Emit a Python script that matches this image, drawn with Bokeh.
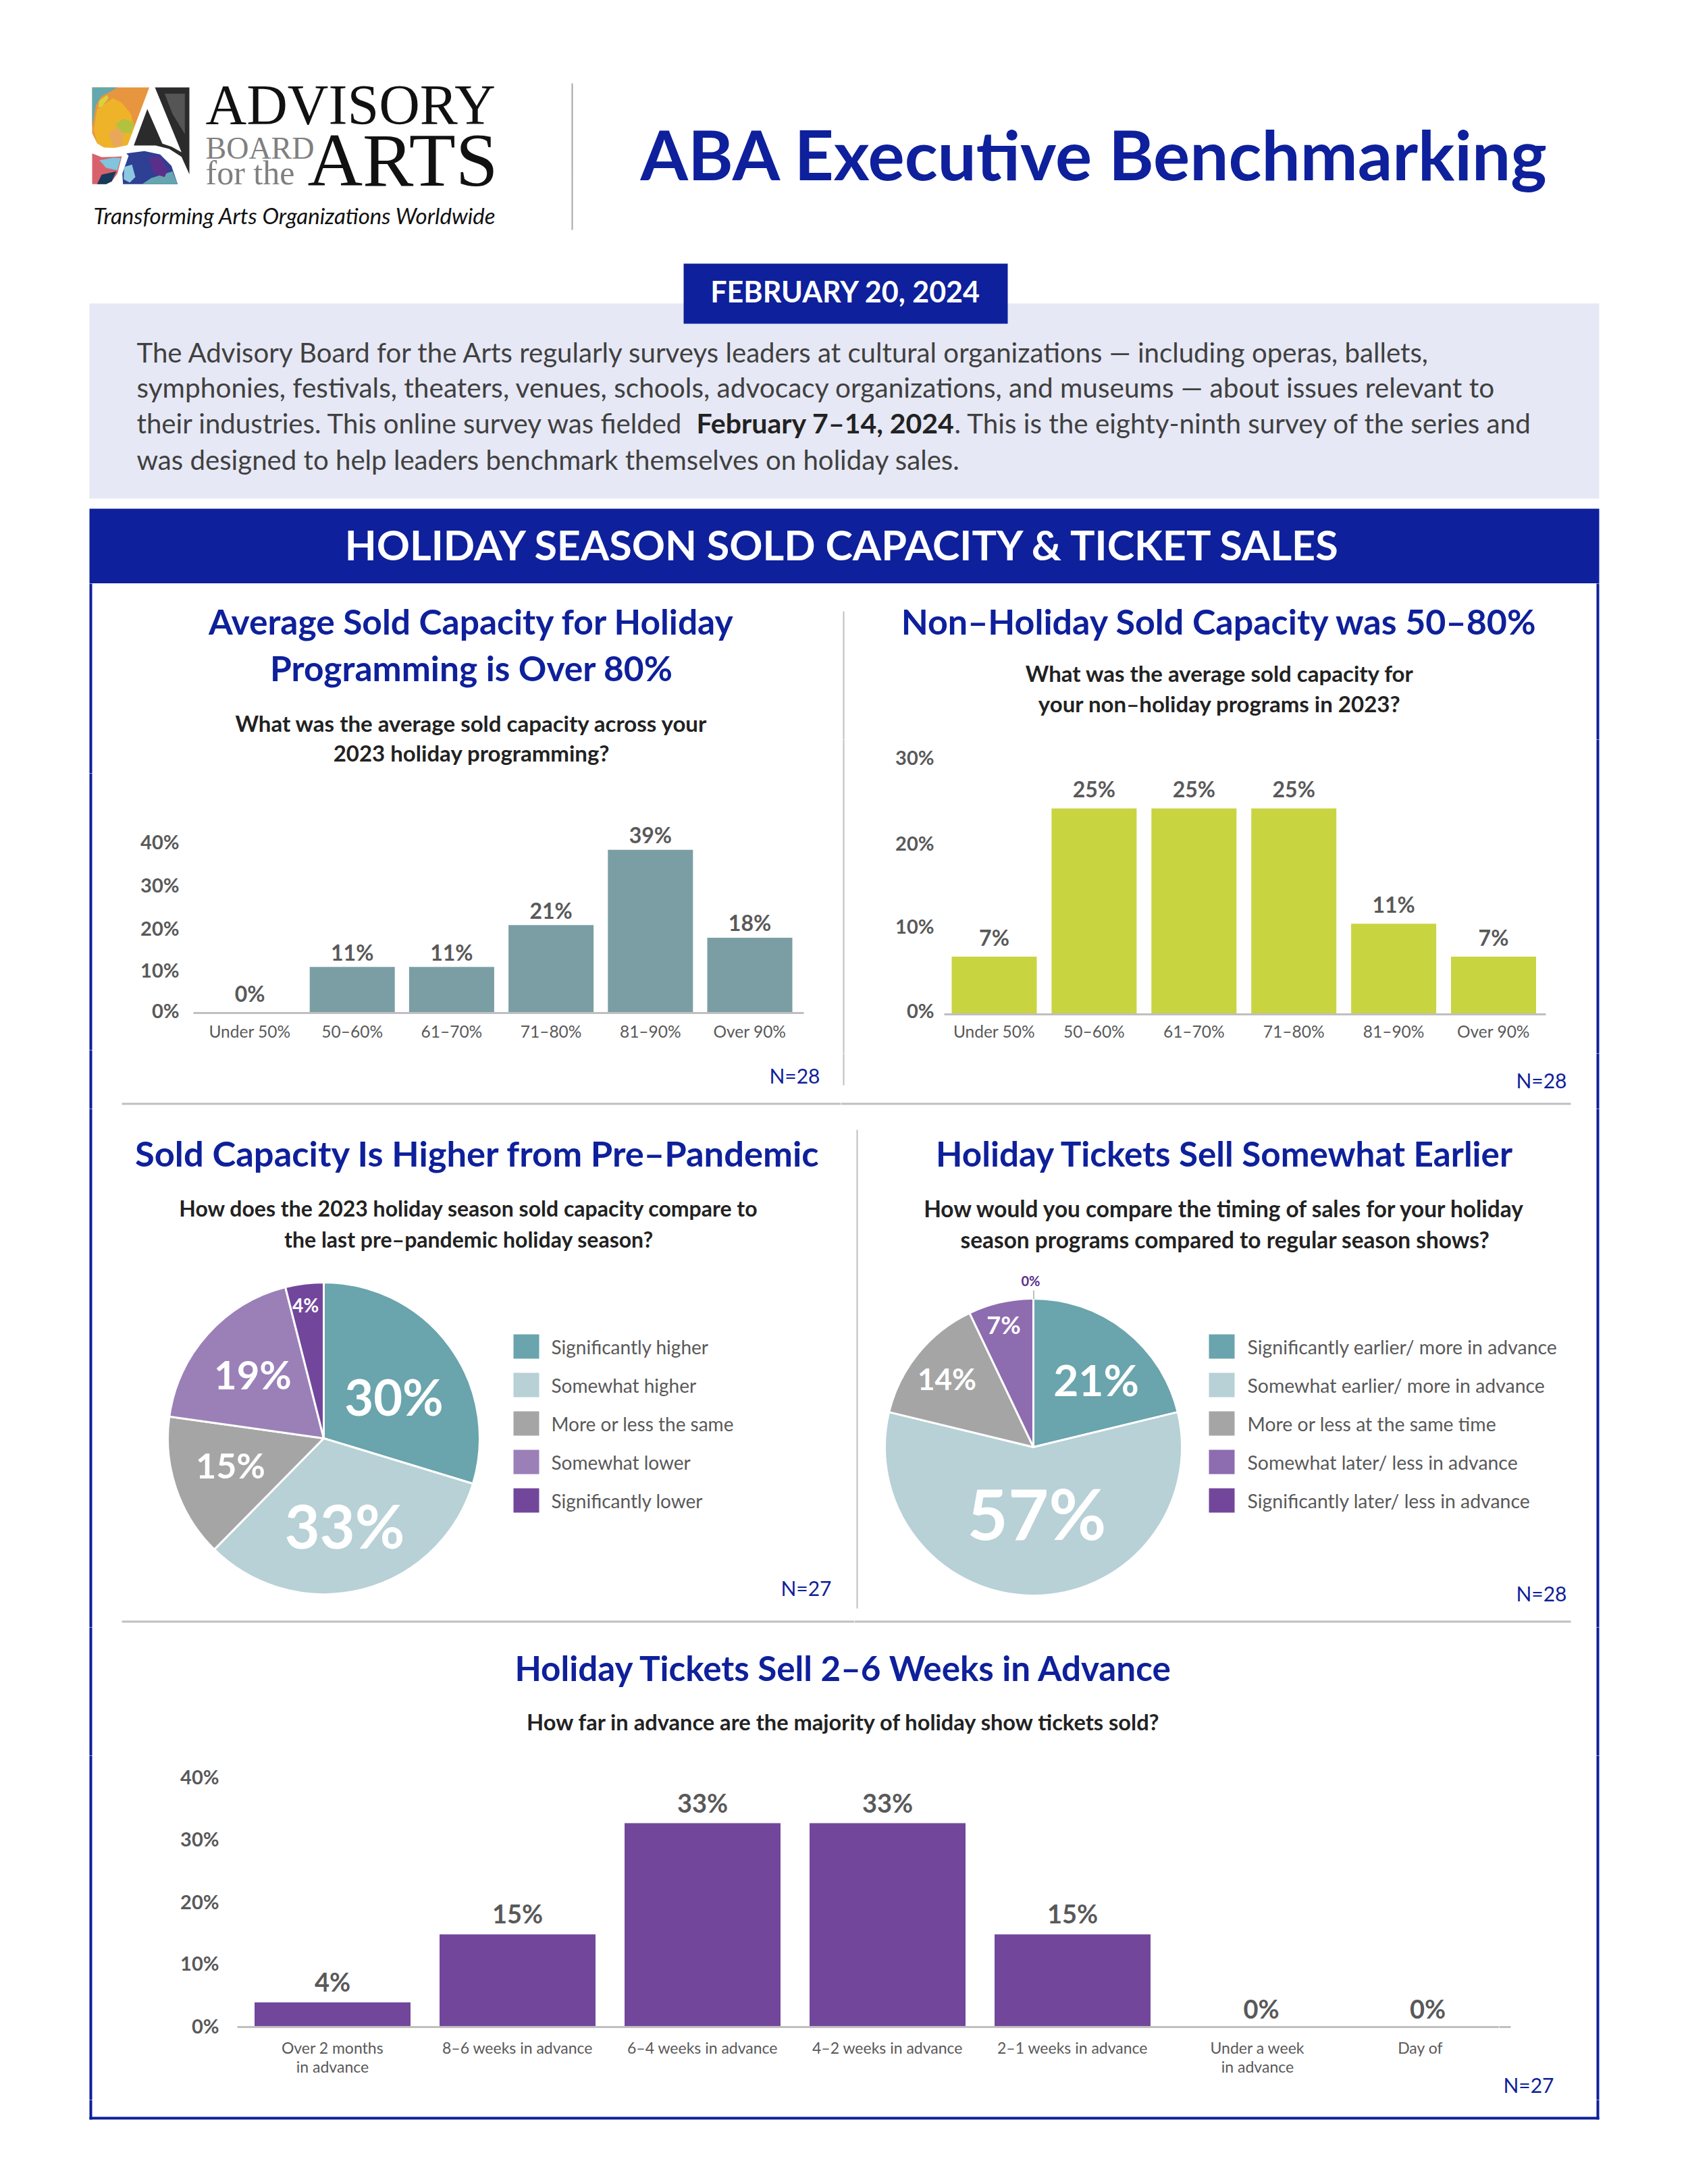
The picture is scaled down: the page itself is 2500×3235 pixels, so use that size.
from bokeh.plotting import figure
from bokeh.layouts import column, row
from bokeh.models import Range1d, LinearAxis, FixedTicker, Label, BoxAnnotation
from bokeh.core.properties import value
from bokeh.embed import file_html
from bokeh.resources import INLINE
import numpy as np

NAVY = "#0E209B"
GRAY = "#595959"
BODY = "#404040"
HEAD = "#222222"
RULE = "#BFBFBF"

capacity_cats = ["Under 50%", "50–60%", "61–70%", "71–80%", "81–90%", "Over 90%"]
holiday_values = [0, 11, 11, 21, 39, 18]
non_holiday_values = [7, 25, 25, 25, 11, 7]
advance_cats = ["Over 2 months\nin advance", "8–6 weeks in advance", "6–4 weeks in advance",
                "4–2 weeks in advance", "2–1 weeks in advance", "Under a week\nin advance", "Day of"]
advance_values = [4, 15, 33, 33, 15, 0, 0]
pre_pandemic_cats = ["Significantly higher", "Somewhat higher", "More or less the same",
                     "Somewhat lower", "Significantly lower"]
pre_pandemic_values = [30, 33, 15, 19, 4]
timing_cats = ["Significantly earlier/ more in advance", "Somewhat earlier/ more in advance",
               "More or less at the same time", "Somewhat later/ less in advance",
               "Significantly later/ less in advance"]
timing_values = [21, 57, 14, 7, 0]
axis_labels = [0, 10, 20, 30, 40]
pie_colors = ["#6AA4AD", "#B7D1D6", "#A5A5A5", "#9B80B8", "#72479B"]
pie_colors_right = ["#6AA4AD", "#B7D1D6", "#A5A5A5", "#8E6CB0", "#72479B"]


def new_fig(X0, Y0, X1, Y1, fl, ft, fr, fb, xr, yr):
    p = figure(width=X1 - X0, height=Y1 - Y0, x_range=xr, y_range=yr,
               toolbar_location=None, output_backend="svg", frame_align=False,
               min_border_left=fl - X0, min_border_right=X1 - fr,
               min_border_top=ft - Y0, min_border_bottom=Y1 - fb,
               x_axis_type=None, y_axis_type=None, background_fill_color="white",
               border_fill_color="white", outline_line_color=None)
    p.grid.visible = False
    p.tags = [fl, fb]
    return p


def sheet(X0, Y0, X1, Y1):
    return new_fig(X0, Y0, X1, Y1, X0, Y0, X1, Y1, Range1d(X0, X1), Range1d(Y1, Y0))


def box(p, l, t, r, b, color):
    fl, fb = p.tags
    p.add_layout(BoxAnnotation(left=l - fl, right=r - fl, top=fb - t, bottom=fb - b,
                               left_units="screen", right_units="screen", top_units="screen", bottom_units="screen",
                               fill_color=color, fill_alpha=1, line_alpha=0, line_width=0))


def lab(p, x, y, text, size, color=GRAY, bold=False, italic=False, align="center", font="Lato"):
    fl, fb = p.tags
    style = "bold italic" if bold and italic else "bold" if bold else "italic" if italic else "normal"
    p.add_layout(Label(x=x - fl, y=fb - y, x_units="screen", y_units="screen", text=text, text_font=font,
                       text_font_size=f"{size}px", text_color=color, text_font_style=style, text_align=align,
                       text_baseline="middle"))


def left_line(p, top, bottom):
    box(p, 132, top - 3, 136, bottom + 3, NAVY)


def right_line(p, top, bottom):
    box(p, 2364, top - 3, 2368, bottom + 3, NAVY)


def bar_chart(p, cats, vals, color, width, labels, tick_pos, tick_size, cat_size, val_size, val_off, zero_off, cat_std,
              y_std, cat_ticks=None, val_x=None, cat_lh=1.2):
    xs = list(range(len(cats)))
    p.vbar(x=xs, top=vals, width=width, bottom=0, color=color, line_color=None)
    p.text(x=val_x or xs, y=vals, text=[f"{v}%" for v in vals], text_align="center", text_baseline="middle",
           y_offset=[val_off if v > 0 else zero_off for v in vals],
           text_font=value("Lato"), text_font_style="bold", text_font_size=f"{val_size}px", text_color=GRAY)
    ya = LinearAxis(ticker=FixedTicker(ticks=tick_pos),
                    major_label_overrides={t: f"{l}%" for t, l in zip(tick_pos, labels)})
    ya.axis_line_color = None
    ya.major_tick_line_color = None
    ya.minor_tick_line_color = None
    ya.major_label_standoff = y_std
    ya.major_label_text_font = "Lato"
    ya.major_label_text_font_style = "bold"
    ya.major_label_text_font_size = f"{tick_size}px"
    ya.major_label_text_color = GRAY
    p.add_layout(ya, "left")
    cat_ticks = cat_ticks or xs
    xa = LinearAxis(ticker=FixedTicker(ticks=cat_ticks),
                    major_label_overrides={t: c for t, c in zip(cat_ticks, cats)})
    xa.axis_line_color = RULE
    xa.axis_line_width = 3
    xa.major_tick_line_color = None
    xa.minor_tick_line_color = None
    xa.major_label_standoff = cat_std
    xa.major_label_text_font = "Lato"
    xa.major_label_text_font_size = f"{cat_size}px"
    xa.major_label_text_color = GRAY
    xa.major_label_text_line_height = cat_lh
    p.add_layout(xa, "below")


def pie(p, vals, colors):
    v = np.array(vals, dtype=float)
    cum = np.concatenate([[0], np.cumsum(v)]) / v.sum()
    ang = np.pi / 2 - cum * 2 * np.pi
    keep = v > 0
    p.wedge(x=0, y=0, radius=1, start_angle=ang[:-1][keep], end_angle=ang[1:][keep], direction="clock",
            fill_color=[c for c, k in zip(colors, keep) if k], line_color="white", line_width=3)


def pie_fig(X0, Y0, X1, Y1, cx, cy, r):
    return new_fig(X0, Y0, X1, Y1, X0, Y0, X1, Y1, Range1d((X0 - cx) / r, (X1 - cx) / r),
                   Range1d((cy - Y1) / r, (cy - Y0) / r))


def legend(p, cats, colors, sx, ys, tx, size):
    for c, col, y in zip(cats, colors, ys):
        box(p, sx, y - 18, sx + 38, y + 18, col)
        lab(p, tx, y, c, size, GRAY, align="left")


def xr_for(fl, fr, c0, step):
    return Range1d((fl - c0) / step, (fr - c0) / step)


# ---- header ----
h = sheet(0, 0, 2500, 864)
logo_shapes = [
    ("#E8953F", [18, 272, 175, 120, 70, 40, 18], [12, 12, 268, 280, 278, 260, 215]),
    ("#EFB32A", [40, 110, 150, 190, 205, 175, 120, 70, 40, 25], [110, 60, 80, 130, 190, 268, 280, 278, 260, 200]),
    ("#B3C23E", [120, 160, 205, 190, 150], [175, 150, 170, 215, 215]),
    ("#E8A85A", [90, 130, 160, 150, 110], [215, 190, 220, 270, 272]),
    ("#63A8AE", [18, 130, 100, 60, 35, 25, 18], [12, 12, 30, 50, 90, 150, 190]),
    ("#D9D33B", [50, 85, 90, 60, 45], [70, 45, 60, 100, 100]),
    ("#2B2B2B", [297, 450, 450, 415, 360, 300, 203, 263, 330, 370, 415],
     [12, 12, 398, 320, 285, 270, 270, 108, 262, 275, 300]),
    ("#555555", [340, 430, 430, 375], [40, 40, 220, 130]),
    ("#D9616B", [18, 60, 120, 150, 130, 105, 80, 18], [305, 322, 320, 318, 395, 430, 442, 442]),
    ("#80C4DE", [50, 110, 145, 130, 80], [335, 325, 325, 380, 370]),
    ("#173A5C", [60, 125, 105, 80, 40], [400, 385, 430, 442, 442]),
    ("#2E3F94", [180, 170, 250, 320, 370, 398, 155, 152], [316, 305, 295, 310, 360, 442, 442, 395]),
    ("#64A5B0", [280, 375, 398, 240], [415, 385, 442, 442]),
    ("#5A2F8A", [270, 320, 355, 340, 290], [320, 320, 375, 410, 395]),
    ("#8CC8E0", [160, 195, 210, 185, 158], [365, 355, 410, 435, 420]),
]
for col, xs, ys in logo_shapes:
    h.patch([130 + v / 3 for v in xs], [125 + v / 3 for v in ys], color=col, line_color=None)
lab(h, 304, 155, "ADVISORY", 84, "#111111", align="left", font="Liberation Serif")
lab(h, 455, 236, "ARTS", 113, "#111111", align="left", font="Liberation Serif")
lab(h, 304, 219, "BOARD", 46, "#808080", align="left", font="Liberation Serif")
lab(h, 304, 255, "for the", 50, "#808080", align="left", font="Liberation Serif")
lab(h, 138, 318, "Transforming Arts Organizations Worldwide", 33, "#111111", italic=True, align="left")
box(h, 846, 123, 848, 340, "#A6A6A6")
lab(h, 948, 227, "ABA Executive Benchmarking", 101.5, NAVY, bold=True, align="left")
box(h, 132, 449, 2368, 738, "#E6E8F5")
box(h, 1012, 390, 1492, 479, NAVY)
lab(h, 1252, 431, "FEBRUARY 20, 2024", 43, "white", bold=True)
lab(h, 202, 521, "The Advisory Board for the Arts regularly surveys leaders at cultural organizations — including operas, ballets,", 40.2, BODY, align="left")
lab(h, 202, 573, "symphonies, festivals, theaters, venues, schools, advocacy organizations, and museums — about issues relevant to", 40.6, BODY, align="left")
lab(h, 202, 626, "their industries. This online survey was fielded", 40.2, BODY, align="left")
lab(h, 1031, 626, "February 7–14, 2024", 41, HEAD, bold=True, align="left")
lab(h, 1413, 626, ". This is the eighty-ninth survey of the series and", 40.4, BODY, align="left")
lab(h, 202, 680, "was designed to help leaders benchmark themselves on holiday sales.", 40.2, BODY, align="left")
box(h, 132, 753, 2368, 864, NAVY)
lab(h, 1250, 806, "HOLIDAY SEASON SOLD CAPACITY & TICKET SALES", 61, "white", bold=True)

# ---- row 1, left ----
t1 = sheet(0, 864, 1245, 1145)
left_line(t1, 864, 1145)
lab(t1, 698, 919, "Average Sold Capacity for Holiday", 51.5, NAVY, bold=True)
lab(t1, 698, 988, "Programming is Over 80%", 51.5, NAVY, bold=True)
lab(t1, 698, 1070, "What was the average sold capacity across your", 33, HEAD, bold=True)
lab(t1, 698, 1114, "2023 holiday programming?", 33, HEAD, bold=True)
s1 = sheet(0, 1145, 140, 1555)
left_line(s1, 1145, 1555)
c1 = new_fig(140, 1145, 1245, 1555, 286, 1150, 1190, 1500, xr_for(286, 1190, 374, 147.2), Range1d(0, 350 / 6.2))
bar_chart(c1, capacity_cats, holiday_values, "#7A9EA4", 0.856, axis_labels, [0.6, 10.3, 20.3, 30.7, 41.0],
          29, 24.5, 32, -22, -29, 6, 15, cat_ticks=[-0.03, 1, 2, 3, 4, 5], val_x=[-0.03, 1, 2, 3, 4, 5])
b1 = sheet(0, 1555, 1245, 1642)
left_line(b1, 1555, 1642)
lab(b1, 1214, 1592, "N=28", 30, NAVY, align="right")
box(b1, 180, 1633, 1245, 1636, RULE)

# ---- row 1, right ----
t2 = sheet(1245, 864, 2500, 1095)
right_line(t2, 864, 1095)
box(t2, 1248, 905, 1250, 1098, RULE)
lab(t2, 1806, 919, "Non–Holiday Sold Capacity was 50–80%", 52, NAVY, bold=True)
lab(t2, 1806, 996, "What was the average sold capacity for", 33, HEAD, bold=True)
lab(t2, 1806, 1041, "your non–holiday programs in 2023?", 33, HEAD, bold=True)
s2 = sheet(1245, 1095, 1300, 1560)
box(s2, 1248, 1092, 1250, 1563, RULE)
c2 = new_fig(1300, 1095, 2300, 1560, 1398, 1105, 2289, 1502, xr_for(1398, 2289, 1472, 147.9),
             Range1d(0, 397 / 12.2))
bar_chart(c2, capacity_cats, non_holiday_values, "#C9D441", 0.852, axis_labels[:4], [0.5, 10.7, 20.8, 31.2],
          29, 24.5, 32, -29, -29, 4, 9)
s3 = sheet(2300, 1095, 2500, 1560)
right_line(s3, 1095, 1560)
b2 = sheet(1245, 1560, 2500, 1642)
right_line(b2, 1560, 1642)
box(b2, 1248, 1557, 1250, 1607, RULE)
lab(b2, 2320, 1599, "N=28", 30, NAVY, align="right")
box(b2, 1245, 1633, 2326, 1636, RULE)

# ---- row 2 ----
legend_ys = [1994, 2051, 2108, 2165, 2222]
c3 = pie_fig(0, 1642, 1265, 2410, 479, 2130, 231)
left_line(c3, 1642, 2410)
pie(c3, pre_pandemic_values, pie_colors)
lab(c3, 707, 1707, "Sold Capacity Is Higher from Pre–Pandemic", 52.5, NAVY, bold=True)
lab(c3, 694, 1789, "How does the 2023 holiday season sold capacity compare to", 32, HEAD, bold=True)
lab(c3, 694, 1835, "the last pre–pandemic holiday season?", 32, HEAD, bold=True)
for v, (x, y), s in zip(pre_pandemic_values, [(583, 2068), (510, 2258), (341, 2169), (374, 2035), (452, 1932)],
                        [74, 90, 52, 58, 28]):
    lab(c3, x, y, f"{v}%", s, "white", bold=True)
legend(c3, pre_pandemic_cats, pie_colors, 760, legend_ys, 816, 28)
lab(c3, 1231, 2351, "N=27", 30, NAVY, align="right")
box(c3, 180, 2400, 1265, 2403, RULE)

c4 = pie_fig(1265, 1642, 2500, 2410, 1530, 2143, 220)
right_line(c4, 1642, 2410)
pie(c4, timing_values, pie_colors_right)
box(c4, 1268, 1673, 1270, 2382, RULE)
lab(c4, 1814, 1707, "Holiday Tickets Sell Somewhat Earlier", 51.2, NAVY, bold=True)
lab(c4, 1814, 1789, "How would you compare the timing of sales for your holiday", 33.4, HEAD, bold=True)
lab(c4, 1814, 1835, "season programs compared to regular season shows?", 33.4, HEAD, bold=True)
for v, (x, y), s, col in zip(timing_values, [(1623, 2043), (1535, 2240), (1402, 2041), (1486, 1961), (1526, 1896)],
                             [64, 104, 44, 36, 20], ["white"] * 4 + ["#5B2F8A"]):
    lab(c4, x, y, f"{v}%", s, col, bold=True)
box(c4, 1530, 1911, 1531, 1924, "#808080")
legend(c4, timing_cats, pie_colors_right, 1790, legend_ys, 1847, 28.4)
lab(c4, 2320, 2359, "N=28", 30, NAVY, align="right")
box(c4, 1265, 2400, 2326, 2403, RULE)

# ---- row 3 ----
t5 = sheet(0, 2410, 2500, 2600)
left_line(t5, 2410, 2600)
right_line(t5, 2410, 2600)
lab(t5, 1250, 2469, "Holiday Tickets Sell 2–6 Weeks in Advance", 51.2, NAVY, bold=True)
lab(t5, 1250, 2550, "How far in advance are the majority of holiday show tickets sold?", 32.6, HEAD, bold=True)
s4 = sheet(0, 2600, 150, 3110)
left_line(s4, 2600, 3110)
c5 = new_fig(150, 2600, 2220, 3110, 351, 2605, 2220, 3002, xr_for(351, 2220, 492, 274), Range1d(0, 397 / 9.15))
bar_chart(c5, advance_cats, advance_values, "#72479B", 0.843, axis_labels, [0.2, 10.4, 20.3, 30.5, 40.6],
          29, 23, 38, -31, -28, 10, 21, cat_ticks=[0, 1, 2, 3, 4, 5, 5.88],
          val_x=[0, 1, 2, 3, 4, 5.02, 5.92], cat_lh=1.0)
s5 = sheet(2220, 2600, 2500, 3110)
right_line(s5, 2600, 3110)
box(s5, 2220, 3000.5, 2237, 3003.5, RULE)
lab(s5, 2301, 3087, "N=27", 30, NAVY, align="right")
b5 = sheet(0, 3110, 2500, 3230)
left_line(b5, 3110, 3136)
right_line(b5, 3110, 3136)
box(b5, 132, 3135, 2368, 3139, NAVY)

page = column(
    h,
    row(column(t1, row(s1, c1, spacing=0), b1, spacing=0),
        column(t2, row(s2, c2, s3, spacing=0), b2, spacing=0), spacing=0),
    row(c3, c4, spacing=0),
    t5, row(s4, c5, s5, spacing=0), b5,
    spacing=0)
open("out.html", "w").write(file_html(page, INLINE))
